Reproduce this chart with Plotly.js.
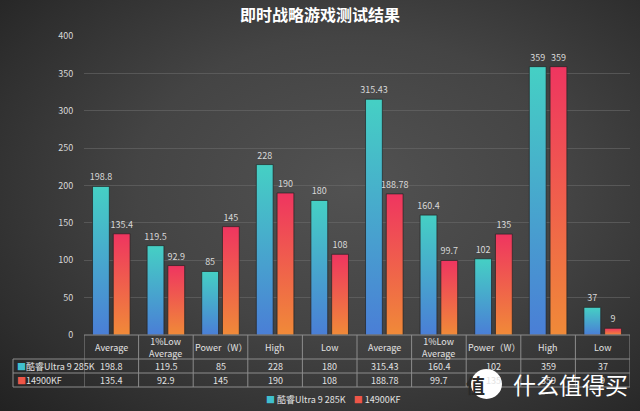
<!DOCTYPE html>
<html>
<head>
<meta charset="utf-8">
<script src="https://cdn.plot.ly/plotly-3.0.1.min.js"></script>
<style>
  html, body { margin: 0; padding: 0; }
  body {
    width: 640px; height: 411px; overflow: hidden;
    background: radial-gradient(ellipse 75% 80% at 55% 45%, #525252 0%, #444 45%, #2f2f2f 80%, #222 100%);
  }
  #chart { width: 640px; height: 411px; }
</style>
</head>
<body>
<div id="chart"></div>
<script>
// 数据
const categories = ['Average', '1%Low<br>Average', 'Power（W）', 'High', 'Low',
                    'Average', '1%Low<br>Average', 'Power（W）', 'High', 'Low'];
const seriesNames = ['酷睿Ultra 9 285K', '14900KF'];
const seriesColors = ['#40bfcf', '#ee5648'];
const ultra9 = [198.8, 119.5, 85, 228, 180, 315.43, 160.4, 102, 359, 37];
const kf14900 = [135.4, 92.9, 145, 190, 108, 188.78, 99.7, 135, 359, 9];
const yTicks = [0, 50, 100, 150, 200, 250, 300, 350, 400];

const FONT = '"Noto Sans CJK SC", "Noto Sans", sans-serif';
const idx = categories.map((_, i) => i);

// 像素 -> paper 坐标（绘图区 84..630, 36..335）
const px = x => (x - 84) / 546;
const py = y => (335 - y) / 299;

const traces = [ultra9, kf14900].map((vals, k) => ({
    type: 'bar',
    name: seriesNames[k],
    x: idx,
    y: vals,
    text: vals.map(String),
    textposition: 'outside',
    constraintext: 'none',
    textfont: { family: FONT, size: 9, color: '#d8d8d8' },
    cliponaxis: false,
    marker: {
        color: seriesColors[k],
        line: { color: 'rgba(35,35,35,0.7)', width: 1 }
    },
    hoverinfo: 'none'
}));

const shapes = [];
const annotations = [];
const lineStyle = { color: '#8c8c8c', width: 1 };

// 表格横线
shapes.push({ type: 'line', xref: 'paper', yref: 'paper', x0: 0, x1: 1, y0: py(335), y1: py(335), line: lineStyle });
[359, 373, 387].forEach(y => shapes.push({
    type: 'line', xref: 'paper', yref: 'paper', x0: px(13), x1: 1, y0: py(y), y1: py(y), line: lineStyle
}));
// 表格竖线
shapes.push({ type: 'line', xref: 'paper', yref: 'paper', x0: px(13), x1: px(13), y0: py(359), y1: py(387), line: lineStyle });
for (let i = 0; i <= categories.length; i++) {
    shapes.push({ type: 'line', xref: 'x', yref: 'paper', x0: i - 0.5, x1: i - 0.5, y0: py(335), y1: py(387), line: lineStyle });
}

// 表头与数值
const cellFont = { family: FONT, size: 9, color: '#e2e2e2' };
categories.forEach((c, i) => {
    annotations.push({ xref: 'x', yref: 'paper', x: i, y: py(347), text: c, showarrow: false, font: cellFont, yanchor: 'middle' });
    annotations.push({ xref: 'x', yref: 'paper', x: i, y: py(366), text: String(ultra9[i]), showarrow: false, font: cellFont, yanchor: 'middle' });
    annotations.push({ xref: 'x', yref: 'paper', x: i, y: py(380), text: String(kf14900[i]), showarrow: false, font: cellFont, yanchor: 'middle' });
});
[366, 380].forEach((y, k) => annotations.push({
    xref: 'paper', yref: 'paper', x: px(15), y: py(y), xanchor: 'left', yanchor: 'middle', showarrow: false, font: cellFont,
    text: '<span style="color:' + seriesColors[k] + '">■</span>' + seriesNames[k]
}));

// 图例
annotations.push({ xref: 'paper', yref: 'paper', x: px(264), y: py(399), xanchor: 'left', yanchor: 'middle', showarrow: false, font: cellFont,
    text: '<span style="color:' + seriesColors[0] + '">■</span> ' + seriesNames[0] +
          '    <span style="color:' + seriesColors[1] + '">■</span> ' + seriesNames[1] });

// 水印
shapes.push({ type: 'circle', xref: 'paper', yref: 'paper', x0: px(471), x1: px(502), y0: py(369), y1: py(399),
    fillcolor: '#ffffff', line: { width: 0 } });
annotations.push({ xref: 'paper', yref: 'paper', x: px(486.5), y: py(384), text: '<b>值</b>', showarrow: false,
    font: { family: FONT, size: 19, color: '#2a2a2a' }, yanchor: 'middle' });
annotations.push({ xref: 'paper', yref: 'paper', x: px(511), y: py(384), xanchor: 'left', yanchor: 'middle', text: '什么值得买', showarrow: false,
    font: { family: FONT, size: 23, color: '#ffffff' } });

const layout = {
    width: 640,
    height: 411,
    paper_bgcolor: 'rgba(0,0,0,0)',
    plot_bgcolor: 'rgba(0,0,0,0)',
    margin: { l: 84, r: 10, t: 36, b: 76, autoexpand: false },
    font: { family: FONT, color: '#d8d8d8' },
    title: {
        text: '<b>即时战略游戏测试结果</b>',
        font: { family: FONT, size: 16, color: '#ffffff' },
        x: 0.5, xanchor: 'center',
        y: 1 - 15 / 411, yanchor: 'middle'
    },
    barmode: 'group',
    bargap: 0.24,
    bargroupgap: 0.19,
    xaxis: {
        range: [-0.5, categories.length - 0.5],
        showticklabels: false,
        showgrid: false,
        zeroline: false,
        ticks: ''
    },
    yaxis: {
        range: [0, 400],
        tickvals: yTicks,
        tickfont: { family: FONT, size: 9, color: '#d8d8d8' },
        gridcolor: 'rgba(110,110,110,0.55)',
        gridwidth: 1,
        zeroline: false,
        ticks: 'outside',
        ticklen: 0,
        tickcolor: 'rgba(0,0,0,0)',
        ticklabelstandoff: 8
    },
    showlegend: false,
    shapes: shapes,
    annotations: annotations
};

Plotly.newPlot('chart', traces, layout, { displayModeBar: false, staticPlot: true }).then(gd => {
    // 柱子渐变
    const svg = gd.querySelector('.main-svg');
    const ns = 'http://www.w3.org/2000/svg';
    const defs = svg.querySelector('defs');
    const grads = [['#45d0c4', '#4a7ed6'], ['#ef3560', '#f08a38']];
    grads.forEach((g, k) => {
        const lg = document.createElementNS(ns, 'linearGradient');
        lg.setAttribute('id', 'barGrad' + k);
        lg.setAttribute('x1', '0'); lg.setAttribute('y1', '0');
        lg.setAttribute('x2', '0'); lg.setAttribute('y2', '1');
        g.forEach((c, j) => {
            const st = document.createElementNS(ns, 'stop');
            st.setAttribute('offset', j === 0 ? '0' : '1');
            st.setAttribute('stop-color', c);
            lg.appendChild(st);
        });
        defs.appendChild(lg);
    });
    gd.querySelectorAll('.barlayer .trace').forEach((tr, k) => {
        tr.querySelectorAll('.point path').forEach(p => { p.style.fill = 'url(#barGrad' + k + ')'; });
    });
});
</script>
</body>
</html>
